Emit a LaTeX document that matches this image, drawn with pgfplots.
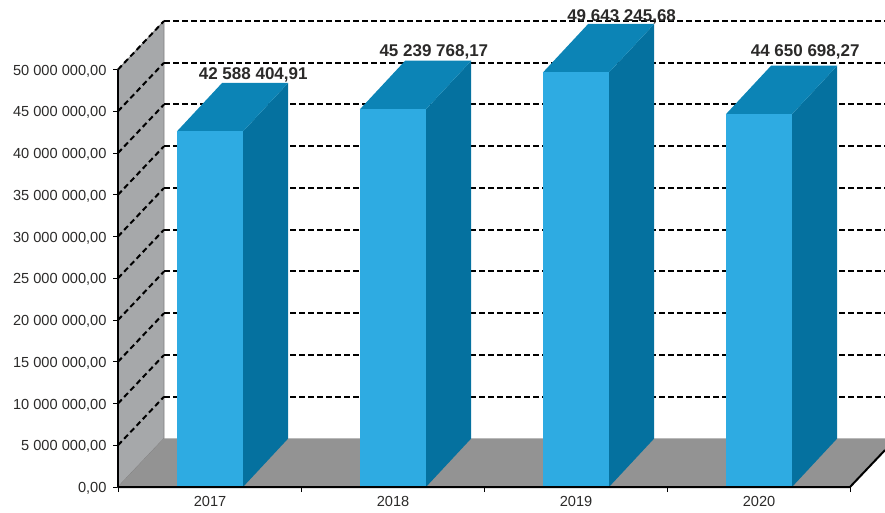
\documentclass[border=0pt]{standalone}
\usepackage{fontspec}
\setmainfont{Liberation Sans}
\usepackage{pgfplots}
\pgfplotsset{compat=1.18}
\definecolor{cfront}{HTML}{2EABE2}
\definecolor{ctop}{HTML}{0C84B6}
\definecolor{cside}{HTML}{05719F}
\definecolor{cwall}{HTML}{A6A8AA}
\definecolor{cfloor}{HTML}{939393}
\definecolor{ctext}{HTML}{2B2A29}
\pgfplotsset{griddash/.style={black,line width=2pt,dash pattern=on 5.5pt off 3.5pt}}
\begin{document}
\begin{tikzpicture}[x=1pt,y=1pt]
\path[use as bounding box] (0,0) rectangle (885,512);
\begin{axis}[
  at={(118pt,25pt)},anchor=origin,
  scale only axis,width=767pt,height=466pt,
  xmin=0,xmax=4.1913,ymin=0,ymax=55810000,
  axis x line=bottom,axis y line=left,
  axis line style={draw=none,-},
  clip=false,
  tick align=outside,
  major tick length=5pt,
  tick style={black,line width=1pt},
  xtick={0,1,2,3,4},xticklabels={},
  extra x ticks={0.503,1.503,2.503,3.503},
  extra x tick labels={2017,2018,2019,2020},
  extra x tick style={tick style={draw=none},major tick length=0pt,
    tick label style={yshift=-6pt}},
  ytick={0,5000000,10000000,15000000,20000000,25000000,30000000,35000000,40000000,45000000,50000000},
  yticklabels={{0,00},{5 000 000,00},{10 000 000,00},{15 000 000,00},{20 000 000,00},{25 000 000,00},{30 000 000,00},{35 000 000,00},{40 000 000,00},{45 000 000,00},{50 000 000,00}},
  scaled y ticks=false,
  tick label style={font=\fontsize{14.6}{16}\selectfont,text=ctext},
  yticklabel style={xshift=-3pt,yshift=-1.5pt},
]
% walls and floor
\addplot[fill=cwall,draw=gray,line width=0.8pt] coordinates {(0,0)(0.2514,5810000)(0.2514,55810000)(0,50000000)} -- cycle;
\addplot[fill=cfloor,draw=none] coordinates {(0,0)(4,0)(4.1913,4420000)(4.1913,5810000)(0.2514,5810000)} -- cycle;
% grid, wall part and back part
\pgfplotsinvokeforeach{5000000,10000000,15000000,20000000,25000000,30000000,35000000,40000000,45000000,50000000}{
  \addplot[griddash] coordinates {(0,#1)(0.2514,#1+5810000)};
  \addplot[griddash] coordinates {(0.2514,#1+5810000)(4.1913,#1+5810000)};
}
% 2017
\addplot[fill=cside,draw=none] coordinates {(0.683,0)(0.93,5810000)(0.93,48398404.91)(0.683,42588404.91)} -- cycle;
\addplot[fill=ctop,draw=none] coordinates {(0.322,42588404.91)(0.683,42588404.91)(0.93,48398404.91)(0.569,48398404.91)} -- cycle;
\addplot[fill=cfront,draw=none] coordinates {(0.322,0)(0.683,0)(0.683,42588404.91)(0.322,42588404.91)} -- cycle;
% 2018
\addplot[fill=cside,draw=none] coordinates {(1.683,0)(1.93,5810000)(1.93,51049768.17)(1.683,45239768.17)} -- cycle;
\addplot[fill=ctop,draw=none] coordinates {(1.322,45239768.17)(1.683,45239768.17)(1.93,51049768.17)(1.569,51049768.17)} -- cycle;
\addplot[fill=cfront,draw=none] coordinates {(1.322,0)(1.683,0)(1.683,45239768.17)(1.322,45239768.17)} -- cycle;
% 2019
\addplot[fill=cside,draw=none] coordinates {(2.683,0)(2.93,5810000)(2.93,55453245.68)(2.683,49643245.68)} -- cycle;
\addplot[fill=ctop,draw=none] coordinates {(2.322,49643245.68)(2.683,49643245.68)(2.93,55453245.68)(2.569,55453245.68)} -- cycle;
\addplot[fill=cfront,draw=none] coordinates {(2.322,0)(2.683,0)(2.683,49643245.68)(2.322,49643245.68)} -- cycle;
% 2020
\addplot[fill=cside,draw=none] coordinates {(3.683,0)(3.93,5810000)(3.93,50460698.27)(3.683,44650698.27)} -- cycle;
\addplot[fill=ctop,draw=none] coordinates {(3.322,44650698.27)(3.683,44650698.27)(3.93,50460698.27)(3.569,50460698.27)} -- cycle;
\addplot[fill=cfront,draw=none] coordinates {(3.322,0)(3.683,0)(3.683,44650698.27)(3.322,44650698.27)} -- cycle;
% axis lines
\addplot[black,line width=1.2pt] coordinates {(0,0)(0,50000000)};
\addplot[black,line width=2pt] coordinates {(0,0)(4,0)(4.1913,4420000)};
% value labels
\node[anchor=base,font=\bfseries\fontsize{17}{18}\selectfont,text=ctext] at (axis cs:0.739,48750000) {42 588 404,91};
\node[anchor=base,font=\bfseries\fontsize{17}{18}\selectfont,text=ctext] at (axis cs:1.726,51600000) {45 239 768,17};
\node[anchor=base,font=\bfseries\fontsize{17}{18}\selectfont,text=ctext] at (axis cs:2.752,55750000) {49 643 245,68};
\node[anchor=base,font=\bfseries\fontsize{17}{18}\selectfont,text=ctext] at (axis cs:3.755,51600000) {44 650 698,27};
\end{axis}
\end{tikzpicture}
\end{document}
